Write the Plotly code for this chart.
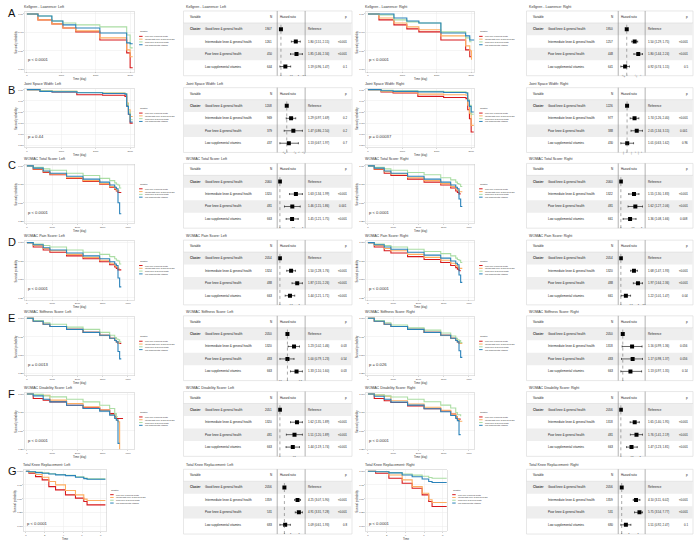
import math
import plotly.graph_objects as go

W, H = 700, 545
FONT = "Liberation Sans"

CLUSTERS = ["Poor knee & general health", "Intermediate knee & general health",
            "Good knee & general health", "Low supplemental vitamins"]
COLORS = ["#D7191C", "#FDAE61", "#ABDDA4", "#2B83BA"]
LEVELS = ["Good knee & general health", "Intermediate knee & general health",
          "Poor knee & general health", "Low supplemental vitamins"]

# ---------------- A: Kellgren - Lawrence ----------------
kl_left_time = [0, 320, 725, 1045, 1420, 2120, 2900, 3000, 3075]
kl_left_poor = [1.0, 0.968, 0.946, 0.924, 0.903, 0.859, 0.789, 0.708, 0.708]
kl_left_inter = [1.0, 0.968, 0.946, 0.924, 0.908, 0.870, 0.805, 0.768, 0.768]
kl_left_good = [1.0, 0.989, 0.962, 0.951, 0.941, 0.930, 0.886, 0.816, 0.816]
kl_left_low = [1.0, 0.989, 0.962, 0.941, 0.924, 0.897, 0.843, 0.838, 0.838]
kl_left_p = "p < 0.0001"
kl_right_time = [0, 320, 755, 1130, 1480, 2120, 2840, 2960, 3010, 3100]
kl_right_poor = [1.0, 0.968, 0.941, 0.919, 0.903, 0.859, 0.805, 0.768, 0.768, None]
kl_right_inter = [1.0, 0.978, 0.951, 0.930, 0.914, 0.881, 0.827, 0.800, 0.751, None]
kl_right_good = [1.0, 0.995, 0.968, 0.957, 0.951, 0.903, 0.870, 0.849, 0.849, None]
kl_right_low = [1.0, 1.0, 0.978, 0.962, 0.951, 0.897, 0.881, 0.859, 0.859, 0.859]
kl_right_p = "p < 0.0001"
kl_left_n = [1907, 1261, 450, 644]
kl_left_hr = [1.0, 1.80, 1.85, 1.19]
kl_left_lo = [1.0, 1.51, 1.46, 0.96]
kl_left_hi = [1.0, 2.15, 2.34, 1.47]
kl_left_pv = ["", "<0.001", "<0.001", "0.1"]
kl_right_n = [1950, 1257, 448, 641]
kl_right_hr = [1.0, 1.50, 1.80, 0.92]
kl_right_lo = [1.0, 1.29, 1.44, 0.74]
kl_right_hi = [1.0, 1.75, 2.24, 1.15]
kl_right_pv = ["", "<0.001", "<0.001", "0.5"]

# ---------------- B: Joint Space Width ----------------
jsw_left_time = [0, 380, 730, 1450, 2200, 2850, 2900, 2950, 3000, 3075]
jsw_left_poor = [1.0, 0.985, 0.98, 0.955, 0.95, 0.94, 0.86, 0.78, 0.70, 0.70]
jsw_left_inter = [1.0, 0.99, 0.985, 0.975, 0.97, 0.96, 0.88, 0.82, 0.76, 0.76]
jsw_left_good = [1.0, 0.99, 0.985, 0.975, 0.97, 0.965, 0.87, 0.80, 0.73, 0.73]
jsw_left_low = [1.0, 0.985, 0.98, 0.972, 0.965, 0.96, 0.85, 0.78, 0.71, 0.71]
jsw_left_p = "p = 0.44"
jsw_right_time = [0, 380, 730, 1450, 2200, 2850, 2900, 2950, 3000, 3075]
jsw_right_poor = [1.0, 0.98, 0.97, 0.94, 0.93, 0.92, 0.82, 0.74, 0.62, 0.62]
jsw_right_inter = [1.0, 0.985, 0.98, 0.96, 0.955, 0.95, 0.86, 0.79, 0.68, 0.68]
jsw_right_good = [1.0, 0.995, 0.99, 0.985, 0.98, 0.975, 0.91, 0.86, 0.78, 0.78]
jsw_right_low = [1.0, 0.99, 0.985, 0.98, 0.975, 0.97, 0.90, 0.85, 0.80, 0.80]
jsw_right_p = "p = 0.00037"
jsw_left_n = [1208, 969, 379, 437]
jsw_left_hr = [1.0, 1.29, 1.47, 1.13]
jsw_left_lo = [1.0, 0.97, 0.86, 0.67]
jsw_left_hi = [1.0, 1.69, 2.50, 1.97]
jsw_left_pv = ["", "0.2", "0.2", "0.7"]
jsw_right_n = [1226, 977, 388, 430]
jsw_right_hr = [1.0, 1.74, 2.05, 1.01]
jsw_right_lo = [1.0, 1.26, 1.34, 0.63]
jsw_right_hi = [1.0, 2.40, 3.15, 1.62]
jsw_right_pv = ["", "<0.001", "0.001", "0.96"]

# ---------------- C: WOMAC Total Score ----------------
wt_left_time = [0, 250, 645, 910, 1570, 2225, 2885, 3280, 3480, 3545, 3610, 3675, 3740]
wt_left_poor = [1.0, 0.95, 0.91, 0.88, 0.83, 0.79, 0.75, 0.71, 0.68, 0.66, 0.64, 0.64, 0.64]
wt_left_inter = [1.0, 0.96, 0.92, 0.89, 0.84, 0.80, 0.76, 0.72, 0.69, 0.67, 0.66, 0.66, None]
wt_left_good = [1.0, 0.98, 0.96, 0.94, 0.90, 0.87, 0.83, 0.80, 0.77, 0.75, 0.74, 0.70, 0.70]
wt_left_low = [1.0, 0.97, 0.93, 0.90, 0.86, 0.82, 0.78, 0.74, 0.71, 0.69, 0.50, 0.35, 0.35]
wt_left_p = "p < 0.0001"
wt_right_time = [0, 250, 645, 910, 1570, 2225, 2885, 3280, 3480, 3545, 3610, 3675, 3740]
wt_right_poor = [1.0, 0.95, 0.90, 0.87, 0.82, 0.78, 0.74, 0.70, 0.66, 0.64, 0.62, 0.62, None]
wt_right_inter = [1.0, 0.96, 0.92, 0.89, 0.84, 0.80, 0.76, 0.72, 0.69, 0.67, 0.65, 0.65, 0.65]
wt_right_good = [1.0, 0.98, 0.96, 0.94, 0.91, 0.88, 0.84, 0.81, 0.78, 0.76, 0.75, 0.72, 0.72]
wt_right_low = [1.0, 0.97, 0.93, 0.90, 0.86, 0.82, 0.78, 0.74, 0.71, 0.69, 0.55, 0.45, 0.45]
wt_right_p = "p < 0.0001"
wt_left_n = [2060, 1320, 481, 663]
wt_left_hr = [1.0, 1.63, 1.46, 1.45]
wt_left_lo = [1.0, 1.34, 1.15, 1.21]
wt_left_hi = [1.0, 1.99, 1.86, 1.75]
wt_left_pv = ["", "<0.001", "0.001", "<0.001"]
wt_right_n = [2060, 1322, 481, 661]
wt_right_hr = [1.0, 1.55, 1.62, 1.36]
wt_right_lo = [1.0, 1.30, 1.27, 1.08]
wt_right_hi = [1.0, 1.83, 2.06, 1.66]
wt_right_pv = ["", "<0.001", "<0.001", "0.008"]

# ---------------- D: WOMAC Pain Score ----------------
wp_left_time = [0, 250, 645, 910, 1570, 2225, 2885, 3280, 3480, 3545, 3610, 3675, 3740]
wp_left_poor = [1.0, 0.94, 0.90, 0.87, 0.82, 0.78, 0.74, 0.70, 0.67, 0.65, 0.63, 0.63, 0.63]
wp_left_inter = [1.0, 0.96, 0.92, 0.89, 0.84, 0.80, 0.76, 0.72, 0.69, 0.67, 0.65, 0.65, None]
wp_left_good = [1.0, 0.98, 0.96, 0.94, 0.90, 0.87, 0.84, 0.81, 0.78, 0.76, 0.75, 0.71, 0.71]
wp_left_low = [1.0, 0.97, 0.93, 0.90, 0.86, 0.82, 0.78, 0.74, 0.71, 0.69, 0.52, 0.40, 0.40]
wp_left_p = "p < 0.0001"
wp_right_time = [0, 250, 645, 910, 1570, 2225, 2885, 3280, 3480, 3545, 3610, 3675, 3740]
wp_right_poor = [1.0, 0.94, 0.89, 0.86, 0.81, 0.77, 0.73, 0.69, 0.66, 0.64, 0.62, 0.62, None]
wp_right_inter = [1.0, 0.96, 0.92, 0.89, 0.84, 0.80, 0.76, 0.72, 0.69, 0.67, 0.65, 0.65, 0.65]
wp_right_good = [1.0, 0.98, 0.96, 0.94, 0.91, 0.88, 0.85, 0.82, 0.79, 0.77, 0.76, 0.73, 0.73]
wp_right_low = [1.0, 0.97, 0.94, 0.91, 0.87, 0.83, 0.79, 0.75, 0.72, 0.70, 0.56, 0.46, 0.46]
wp_right_p = "p < 0.0001"
wp_left_n = [2054, 1324, 488, 663]
wp_left_hr = [1.0, 1.50, 1.87, 1.44]
wp_left_lo = [1.0, 1.28, 1.55, 1.21]
wp_left_hi = [1.0, 1.76, 2.26, 1.71]
wp_left_pv = ["", "<0.001", "<0.001", "<0.001"]
wp_right_n = [2054, 1320, 488, 661]
wp_right_hr = [1.0, 1.68, 1.97, 1.22]
wp_right_lo = [1.0, 1.47, 1.64, 1.01]
wp_right_hi = [1.0, 1.93, 2.36, 1.47]
wp_right_pv = ["", "<0.001", "<0.001", "0.04"]

# ---------------- E: WOMAC Stiffness Score ----------------
ws_left_time = [0, 250, 645, 910, 1570, 2225, 2885, 3280, 3480, 3545, 3610, 3675, 3740]
ws_left_poor = [1.0, 0.96, 0.92, 0.89, 0.85, 0.81, 0.77, 0.73, 0.70, 0.68, 0.66, 0.66, 0.66]
ws_left_inter = [1.0, 0.96, 0.92, 0.89, 0.85, 0.81, 0.77, 0.73, 0.70, 0.68, 0.66, 0.66, None]
ws_left_good = [1.0, 0.97, 0.94, 0.92, 0.88, 0.85, 0.81, 0.77, 0.74, 0.72, 0.71, 0.68, 0.68]
ws_left_low = [1.0, 0.96, 0.92, 0.89, 0.85, 0.81, 0.77, 0.73, 0.70, 0.68, 0.55, 0.45, 0.45]
ws_left_p = "p = 0.0013"
ws_right_time = [0, 250, 645, 910, 1570, 2225, 2885, 3280, 3480, 3545, 3610, 3675, 3740]
ws_right_poor = [1.0, 0.96, 0.92, 0.89, 0.85, 0.81, 0.77, 0.73, 0.70, 0.68, 0.66, 0.66, None]
ws_right_inter = [1.0, 0.96, 0.92, 0.89, 0.85, 0.81, 0.77, 0.73, 0.70, 0.68, 0.66, 0.66, 0.66]
ws_right_good = [1.0, 0.97, 0.94, 0.91, 0.87, 0.84, 0.80, 0.76, 0.73, 0.71, 0.70, 0.67, 0.67]
ws_right_low = [1.0, 0.96, 0.92, 0.89, 0.85, 0.81, 0.77, 0.73, 0.70, 0.68, 0.56, 0.47, 0.47]
ws_right_p = "p = 0.026"
ws_left_n = [2050, 1320, 483, 663]
ws_left_hr = [1.0, 1.23, 1.00, 1.33]
ws_left_lo = [1.0, 1.02, 0.79, 1.10]
ws_left_hi = [1.0, 1.46, 1.23, 1.60]
ws_left_pv = ["", "0.03", "0.54", "0.03"]
ws_right_n = [2050, 1318, 483, 663]
ws_right_hr = [1.0, 1.16, 1.17, 1.13]
ws_right_lo = [1.0, 0.99, 0.98, 0.97]
ws_right_hi = [1.0, 1.36, 1.37, 1.35]
ws_right_pv = ["", "0.056", "0.056", "0.14"]

# ---------------- F: WOMAC Disability Score ----------------
wd_left_time = [0, 250, 645, 910, 1570, 2225, 2885, 3280, 3480, 3545, 3610, 3675, 3740, 3810]
wd_left_poor = [1.0, 0.939, 0.915, 0.894, 0.849, 0.813, 0.782, 0.737, 0.692, 0.669, 0.669, 0.669, 0.669, 0.669]
wd_left_inter = [1.0, 0.99, 0.984, 0.917, 0.872, 0.827, 0.782, 0.723, 0.68, 0.65, 0.624, 0.24, 0.24, None]
wd_left_good = [1.0, 0.995, 0.975, 0.962, 0.93, 0.894, 0.849, 0.804, 0.737, 0.692, 0.692, None, None, None]
wd_left_low = [1.0, 0.975, 0.93, 0.894, 0.849, 0.804, 0.768, 0.714, 0.67, 0.646, 0.331, 0.331, None, None]
wd_left_p = "p < 0.0001"
wd_right_time = [0, 250, 645, 910, 1570, 2225, 2885, 3280, 3480, 3545, 3610, 3675, 3740, 3810]
wd_right_poor = [1.0, 0.94, 0.91, 0.885, 0.84, 0.80, 0.77, 0.73, 0.69, 0.66, 0.66, 0.66, None, None]
wd_right_inter = [1.0, 0.985, 0.97, 0.91, 0.865, 0.82, 0.78, 0.73, 0.69, 0.66, 0.63, 0.63, 0.63, None]
wd_right_good = [1.0, 0.99, 0.975, 0.96, 0.93, 0.895, 0.85, 0.81, 0.75, 0.72, 0.72, 0.70, None, None]
wd_right_low = [1.0, 0.97, 0.93, 0.89, 0.85, 0.80, 0.76, 0.71, 0.67, 0.64, 0.45, 0.45, None, None]
wd_right_p = "p < 0.0001"
wd_left_n = [2051, 1320, 481, 663]
wd_left_hr = [1.0, 1.62, 1.51, 1.44]
wd_left_lo = [1.0, 1.35, 1.20, 1.19]
wd_left_hi = [1.0, 1.89, 1.89, 1.74]
wd_left_pv = ["", "<0.001", "<0.001", "<0.001"]
wd_right_n = [2056, 1318, 481, 663]
wd_right_hr = [1.0, 1.65, 1.76, 1.47]
wd_right_lo = [1.0, 1.40, 1.41, 1.23]
wd_right_hi = [1.0, 1.95, 2.19, 1.81]
wd_right_pv = ["", "<0.001", "<0.001", "<0.001"]

# ---------------- G: Total Knee Replacement ----------------
tkr_left_time = [0, 0.32, 1.03, 1.74, 2.45, 3.17, 4.23, 5.3, 6.19, 6.54, 8.5]
tkr_left_poor = [1.0, 0.964, 0.903, 0.842, 0.72, 0.66, 0.57, 0.51, 0.449, 0.387, 0.387]
tkr_left_inter = [1.0, 0.98, 0.94, 0.891, 0.812, 0.751, 0.649, 0.57, 0.491, 0.467, 0.467]
tkr_left_good = [1.0, 0.995, 0.985, 0.97, 0.955, 0.94, 0.925, 0.90, 0.875, 0.862, 0.862]
tkr_left_low = [1.0, 0.99, 0.976, 0.965, 0.95, 0.935, 0.92, 0.89, 0.865, 0.855, 0.855]
tkr_left_p = "p < 0.0001"
tkr_right_time = [0, 0.82, 2.24, 3.66, 4.73, 5.8, 6.5, 6.86, 8.5]
tkr_right_poor = [1.0, 0.964, 0.873, 0.782, 0.69, 0.57, 0.449, 0.358, 0.358]
tkr_right_inter = [1.0, 0.99, 0.933, 0.842, 0.72, 0.60, 0.48, 0.43, 0.43]
tkr_right_good = [1.0, 0.995, 0.975, 0.95, 0.93, 0.91, 0.885, 0.873, 0.873]
tkr_right_low = [1.0, 0.99, 0.97, 0.933, 0.90, 0.86, 0.812, 0.794, 0.794]
tkr_right_p = "p < 0.0001"
tkr_left_n = [2056, 1359, 531, 683]
tkr_left_hr = [1.0, 4.25, 4.91, 1.09]
tkr_left_lo = [1.0, 3.07, 3.31, 0.61]
tkr_left_hi = [1.0, 5.90, 7.28, 1.93]
tkr_left_pv = ["", "<0.001", "<0.001", "0.8"]
tkr_right_n = [2056, 1359, 531, 680]
tkr_right_hr = [1.0, 4.10, 5.75, 1.51]
tkr_right_lo = [1.0, 3.11, 3.54, 0.92]
tkr_right_hi = [1.0, 6.02, 7.77, 2.47]
tkr_right_pv = ["", "<0.001", "<0.001", "0.1"]

ROW_LETTERS = ["A", "B", "C", "D", "E", "F", "G"]
ROW_NAMES = ["Kellgren - Lawrence", "Joint Space Width", "WOMAC Total Score",
             "WOMAC Pain Score", "WOMAC Stiffness Score", "WOMAC Disability Score",
             "Total Knee Replacement"]

KM = [
    [(kl_left_time, [kl_left_poor, kl_left_inter, kl_left_good, kl_left_low], kl_left_p),
     (kl_right_time, [kl_right_poor, kl_right_inter, kl_right_good, kl_right_low], kl_right_p)],
    [(jsw_left_time, [jsw_left_poor, jsw_left_inter, jsw_left_good, jsw_left_low], jsw_left_p),
     (jsw_right_time, [jsw_right_poor, jsw_right_inter, jsw_right_good, jsw_right_low], jsw_right_p)],
    [(wt_left_time, [wt_left_poor, wt_left_inter, wt_left_good, wt_left_low], wt_left_p),
     (wt_right_time, [wt_right_poor, wt_right_inter, wt_right_good, wt_right_low], wt_right_p)],
    [(wp_left_time, [wp_left_poor, wp_left_inter, wp_left_good, wp_left_low], wp_left_p),
     (wp_right_time, [wp_right_poor, wp_right_inter, wp_right_good, wp_right_low], wp_right_p)],
    [(ws_left_time, [ws_left_poor, ws_left_inter, ws_left_good, ws_left_low], ws_left_p),
     (ws_right_time, [ws_right_poor, ws_right_inter, ws_right_good, ws_right_low], ws_right_p)],
    [(wd_left_time, [wd_left_poor, wd_left_inter, wd_left_good, wd_left_low], wd_left_p),
     (wd_right_time, [wd_right_poor, wd_right_inter, wd_right_good, wd_right_low], wd_right_p)],
    [(tkr_left_time, [tkr_left_poor, tkr_left_inter, tkr_left_good, tkr_left_low], tkr_left_p),
     (tkr_right_time, [tkr_right_poor, tkr_right_inter, tkr_right_good, tkr_right_low], tkr_right_p)],
]
FOREST = [
    [(kl_left_n, kl_left_hr, kl_left_lo, kl_left_hi, kl_left_pv),
     (kl_right_n, kl_right_hr, kl_right_lo, kl_right_hi, kl_right_pv)],
    [(jsw_left_n, jsw_left_hr, jsw_left_lo, jsw_left_hi, jsw_left_pv),
     (jsw_right_n, jsw_right_hr, jsw_right_lo, jsw_right_hi, jsw_right_pv)],
    [(wt_left_n, wt_left_hr, wt_left_lo, wt_left_hi, wt_left_pv),
     (wt_right_n, wt_right_hr, wt_right_lo, wt_right_hi, wt_right_pv)],
    [(wp_left_n, wp_left_hr, wp_left_lo, wp_left_hi, wp_left_pv),
     (wp_right_n, wp_right_hr, wp_right_lo, wp_right_hi, wp_right_pv)],
    [(ws_left_n, ws_left_hr, ws_left_lo, ws_left_hi, ws_left_pv),
     (ws_right_n, ws_right_hr, ws_right_lo, ws_right_hi, ws_right_pv)],
    [(wd_left_n, wd_left_hr, wd_left_lo, wd_left_hi, wd_left_pv),
     (wd_right_n, wd_right_hr, wd_right_lo, wd_right_hi, wd_right_pv)],
    [(tkr_left_n, tkr_left_hr, tkr_left_lo, tkr_left_hi, tkr_left_pv),
     (tkr_right_n, tkr_right_hr, tkr_right_lo, tkr_right_hi, tkr_right_pv)],
]

# ---------------- layout geometry (pixels) ----------------
ROW_TOP = [12, 89, 165, 242, 318, 394, 472]
ROW_H = [60, 59, 59, 59, 59, 57, 61]
KM_X = [[(25, 135)] * 6 + [(24, 107)], [(367, 476)] * 6 + [(367, 448)]]
LEG_X = [[139] * 6 + [110], [480] * 6 + [453]]
TAB_X = [(184, 353, 278, 306), (528, 695, 620, 647)]
XCFG = [(0.0345, [0, 1000, 2000, 3000], "Time (day)")] * 2 + \
       [(0.0253, [0, 1000, 2000, 3000, 4000], "Time (day)")] * 4 + \
       [(9.375, [0, 2, 4, 6, 8], "Time")]
YCFG = [([0.7, 0.8, 0.9, 1.0], 2, 185), ([0.5, 0.6, 0.7, 0.8, 0.9, 1.0], 1, 112)] + \
       [([0.25, 0.5, 0.75, 1.0], 1.5, 74)] * 4 + [([0, 0.25, 0.5, 0.75, 1.0], 1, 55)]

fig = go.Figure()
shapes, annotations, axes = [], [], {}
counter = [0]


def X(px):
    return px / W


def Y(py):
    return 1 - py / H


def txt(x, y, s, size, anchor="left", color="#222222", angle=0, yanchor="middle"):
    annotations.append(dict(x=X(x), y=Y(y), xref="paper", yref="paper", text=s, showarrow=False,
                            xanchor=anchor, yanchor=yanchor, textangle=angle, borderpad=0,
                            font=dict(size=size, color=color, family=FONT)))


def rect(x0, y0, x1, y1, fill=None, line=None, lw=0.6):
    shapes.append(dict(type="rect", xref="paper", yref="paper", x0=X(x0), x1=X(x1), y0=Y(y1), y1=Y(y0),
                       fillcolor=fill if fill else "rgba(0,0,0,0)",
                       line=dict(color=line if line else "rgba(0,0,0,0)", width=lw if line else 0),
                       layer="below"))


def seg(x0, y0, x1, y1, color, width=0.6, dash="solid", layer="above"):
    shapes.append(dict(type="line", xref="paper", yref="paper", x0=X(x0), x1=X(x1), y0=Y(y0), y1=Y(y1),
                       line=dict(color=color, width=width, dash=dash), layer=layer))


def new_axes():
    counter[0] += 1
    n = counter[0]
    return n, ("xaxis" if n == 1 else f"xaxis{n}"), ("yaxis" if n == 1 else f"yaxis{n}"), \
        ("x" if n == 1 else f"x{n}"), ("y" if n == 1 else f"y{n}")


for r in range(7):
    P, h = ROW_TOP[r], ROW_H[r]
    txt(7, P + 1, ROW_LETTERS[r], 11, color="#111111")
    ppu, xt, xtitle = XCFG[r]
    yt, yoff, yppu = YCFG[r]
    for side in range(2):
        name = ROW_NAMES[r] + (": Left" if side == 0 else ": Right")
        # ---------- Kaplan-Meier panel ----------
        e0, e1 = KM_X[side][r]
        n, xa, ya, xr, yr = new_axes()
        time, curves, ptxt = KM[r][side]
        axes[xa] = dict(domain=[X(e0), X(e1)], anchor=yr, range=[-2 / ppu, (e1 - e0 - 2) / ppu],
                        tickvals=xt, tickfont=dict(size=2.4, color="#4D4D4D", family=FONT),
                        showgrid=True, gridcolor="#EBEBEB", gridwidth=0.5, zeroline=False,
                        showline=True, mirror=True, linecolor="#D0D0D0", linewidth=0.6,
                        ticks="outside", ticklen=1, tickwidth=0.4, tickcolor="#999999")
        axes[ya] = dict(domain=[Y(P + h), Y(P)], anchor=xr,
                        range=[1 - (h - yoff) / yppu, 1 + yoff / yppu],
                        tickvals=yt, tickformat=".2f",
                        tickfont=dict(size=2.4, color="#4D4D4D", family=FONT),
                        showgrid=True, gridcolor="#EBEBEB", gridwidth=0.5, zeroline=False,
                        showline=True, mirror=True, linecolor="#D0D0D0", linewidth=0.6,
                        ticks="outside", ticklen=1, tickwidth=0.4, tickcolor="#999999")
        for lab, col, s in zip(CLUSTERS, COLORS, curves):
            fig.add_trace(go.Scatter(x=time, y=s, mode="lines", name=lab, showlegend=False,
                                     line=dict(color=col, width=1.1, shape="hv"),
                                     xaxis=xr, yaxis=yr, hoverinfo="skip"))
        txt(e0 - 2, P - 5, name, 3.6, color="#333333")
        txt(e0 - 9, P + h / 2, "Survival probability", 2.7, anchor="center", angle=-90, color="#333333")
        txt((e0 + e1) / 2, P + h + 7.5, xtitle, 2.8, anchor="center", color="#333333")
        txt(e0 + 2, P + (48 if r < 6 else 53), ptxt, 4.2, color="#333333")
        # legend
        lx = LEG_X[side][r]
        ly = P + 20
        txt(lx, ly, "Cluster", 2.4, color="#333333")
        for k, (lab, col) in enumerate(zip(CLUSTERS, COLORS)):
            yy = ly + 4.5 + k * 2.8
            seg(lx + 0.5, yy, lx + 4, yy, col, width=1.0)
            txt(lx + 5.5, yy, lab, 1.9, color="#333333")
        # ---------- forest table ----------
        tx0, tx1, d1, d2 = TAB_X[side]
        nn, hr, lo, hi, pv = FOREST[r][side]
        txt(tx0 + 2, P - 5, name, 3.6, color="#333333")
        top, hb, bot = P - 1, P + 11, P + 61
        rowh = (bot - hb) / 4
        rect(tx0, top, tx1, bot + 3, fill="white", line="#D6D6D6", lw=0.6)
        for k in (0, 2):
            rect(tx0 + 0.5, hb + k * rowh, tx1 - 0.5, hb + (k + 1) * rowh, fill="#EEEEEE")
        seg(tx0, hb, tx1, hb, "#D6D6D6", 0.5, layer="below")
        seg(d1, top, d1, bot + 3, "#7F7F7F", 0.6)
        seg(d2, top, d2, bot + 3, "#7F7F7F", 0.6)
        hc = P + 5
        txt(tx0 + 6, hc, "Variable", 3.0)
        txt(d1 - 4, hc, "N", 3.0, anchor="right")
        txt(d1 + 2, hc, "Hazard ratio", 2.9)
        txt(tx1 - 4, hc, "p", 3.0, anchor="right")
        for k in range(4):
            yc = hb + (k + 0.5) * rowh
            if k == 0:
                txt(tx0 + 6, yc, "<b>Cluster</b>", 3.0)
            txt(tx0 + 21, yc, LEVELS[k], 3.0)
            txt(d1 - 4, yc, str(nn[k]), 3.0, anchor="right")
            if k == 0:
                txt(d2 + 1.5, yc, "Reference", 2.9)
            else:
                txt(d2 + 1.5, yc, f"{hr[k]:.2f} ({lo[k]:.2f}, {hi[k]:.2f})", 2.9)
                txt(tx1 - 4, yc, pv[k], 2.9, anchor="right")
        # forest axis
        n, xa, ya, xr, yr = new_axes()
        lmin = math.log10(min(min(lo), 1.0))
        lmax = math.log10(max(hi))
        pad = 0.075 * (lmax - lmin)
        rng = [lmin - pad, lmax + pad]
        if max(hi) / min(lo) > 5:
            cand = [0.5, 1, 2, 5, 10]
        else:
            cand = [0.5, 0.8, 1, 1.5, 2, 2.5, 3]
        tv = [c for c in cand if rng[0] <= math.log10(c) <= rng[1]]
        axes[xa] = dict(domain=[X(d1 + 1), X(d2 - 1)], anchor=yr, type="log", range=rng,
                        tickvals=tv, ticktext=[f"{c:g}" for c in tv],
                        tickfont=dict(size=2.2, color="#4D4D4D", family=FONT),
                        showgrid=False, zeroline=False, showline=False, ticks="", layer="above traces")
        axes[ya] = dict(domain=[Y(bot), Y(hb)], anchor=xr, range=[4.5, 0.5], visible=False)
        shapes.append(dict(type="line", xref=xr, yref="paper", x0=1, x1=1, y0=Y(bot + 3), y1=Y(hb),
                           line=dict(color="#555555", width=0.5, dash="dot"), layer="above"))
        fig.add_trace(go.Scatter(x=hr[1:], y=[2, 3, 4], mode="markers",
                                 marker=dict(symbol="square", size=4.0, color="black"),
                                 error_x=dict(type="data", symmetric=False,
                                              array=[h_ - e for h_, e in zip(hi[1:], hr[1:])],
                                              arrayminus=[e - l_ for e, l_ in zip(hr[1:], lo[1:])],
                                              thickness=0.6, width=1.0, color="black"),
                                 xaxis=xr, yaxis=yr, showlegend=False, hoverinfo="skip"))
        fig.add_trace(go.Scatter(x=[hr[0]], y=[1], mode="markers",
                                 marker=dict(symbol="square", size=4.0, color="black"),
                                 xaxis=xr, yaxis=yr, showlegend=False, hoverinfo="skip"))

fig.update_layout(width=W, height=H, autosize=False, margin=dict(l=0, r=0, t=0, b=0),
                  paper_bgcolor="white", plot_bgcolor="white", showlegend=False,
                  shapes=shapes, annotations=annotations, font=dict(family=FONT), **axes)
fig.write_html("out.html", config={"displayModeBar": False, "staticPlot": True},
               post_script="document.body.style.margin='0px';")
